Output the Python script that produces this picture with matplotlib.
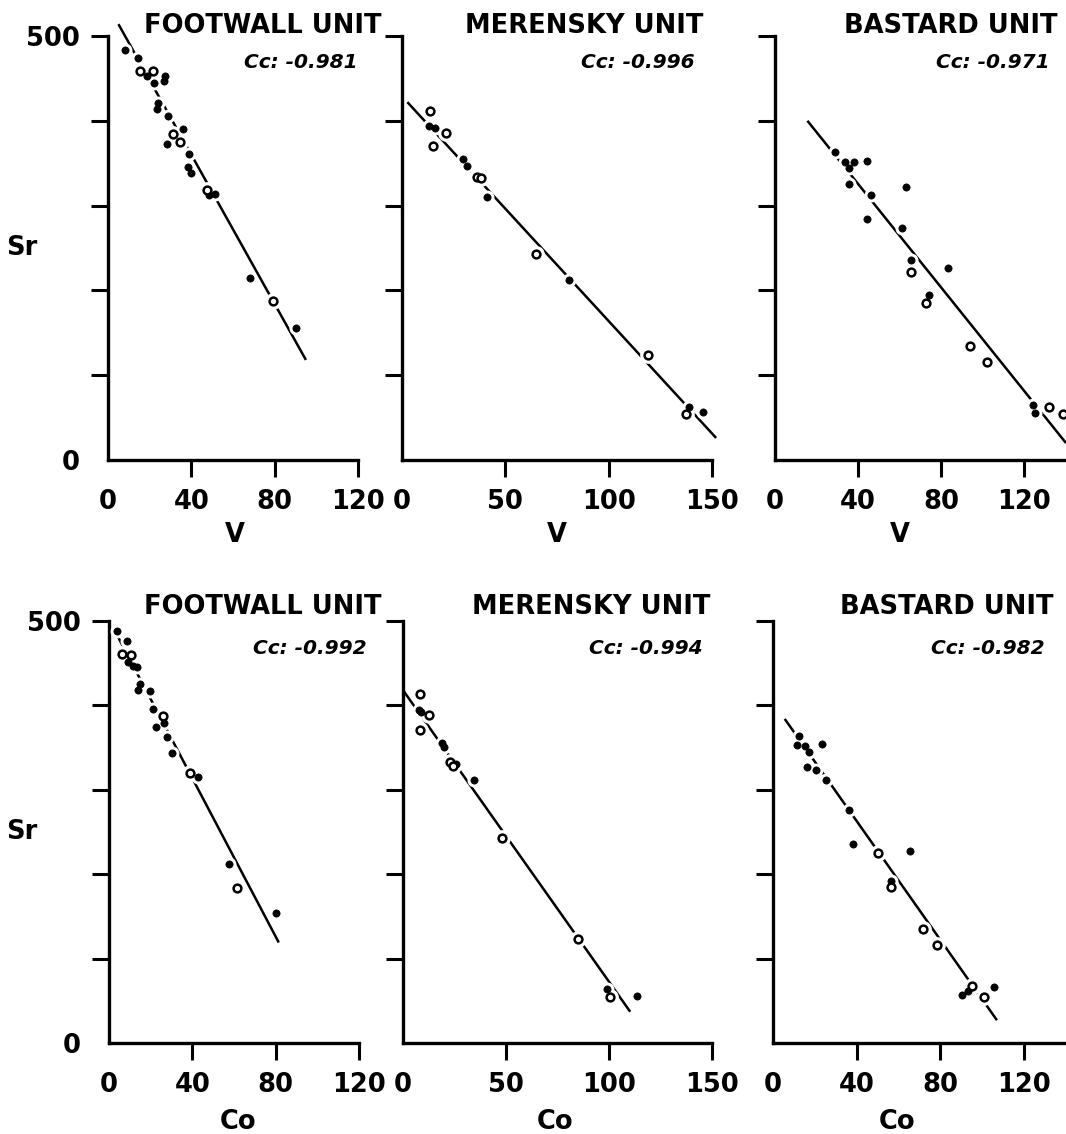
import matplotlib
matplotlib.use("Agg")
import matplotlib.pyplot as plt

W, H = 1066, 1134

# ---- data (Sr vs V, Sr vs Co) ----
fw_v_filled_x = [8.2, 14.4, 18.6, 22, 27.4, 27, 24, 23.5, 28.8, 36, 28.2, 39, 38.5, 40, 48.6, 51.4, 68, 90]
fw_v_filled_y = [483, 474, 453, 445, 453, 447, 421, 414, 406, 390, 373, 361, 345, 339, 312, 314, 215, 156]
fw_v_open_x = [15.4, 21.8, 31.4, 34.6, 47.4, 79]
fw_v_open_y = [459, 459, 385, 375, 318, 187]
fw_v_fit_x = [5, 95]
fw_v_fit_y = [514, 118]

me_v_filled_x = [13.2, 16, 29.4, 31.6, 41, 81, 139, 145.8]
me_v_filled_y = [394, 391, 355, 347, 310, 212, 63, 57]
me_v_open_x = [13.5, 21.3, 14.9, 36.4, 38, 65, 119, 137.5]
me_v_open_y = [411, 386, 370, 334, 332, 243, 124, 54]
me_v_fit_x = [2.6, 152]
me_v_fit_y = [422, 26]

ba_v_filled_x = [29, 33.5, 35.4, 37.8, 44.3, 35.4, 46.2, 44.3, 63, 61.2, 65.6, 83.4, 74, 124, 125]
ba_v_filled_y = [363, 351, 344, 352, 353, 325, 312, 284, 322, 273, 236, 227, 194, 64.5, 55]
ba_v_open_x = [65.2, 72.5, 93.9, 102, 132, 138.5]
ba_v_open_y = [222, 185, 135, 116, 63, 54]
ba_v_fit_x = [15.6, 140]
ba_v_fit_y = [400, 20]

fw_co_filled_x = [4, 8.5, 9.2, 11.6, 13.5, 14.8, 14, 19.6, 21.2, 26.3, 22.4, 27.6, 30, 42.7, 57.6, 80]
fw_co_filled_y = [488, 476, 452, 447, 445, 425, 418, 417, 396, 379, 375, 363, 344, 315, 212, 154]
fw_co_open_x = [6, 10.5, 25.7, 38.8, 61.4]
fw_co_open_y = [461, 460, 388, 320, 184]
fw_co_fit_x = [2, 81.5]
fw_co_fit_y = [492, 119]

me_co_filled_x = [7.6, 8.7, 18.9, 19.7, 25.7, 34.3, 99, 113.6]
me_co_filled_y = [395, 392, 356, 351, 331, 312, 64, 56]
me_co_open_x = [8.1, 12.4, 8.4, 22.6, 24.3, 48, 84.8, 100.3]
me_co_open_y = [413, 389, 371, 333, 328, 243, 123, 55]
me_co_fit_x = [0.3, 110.3]
me_co_fit_y = [417, 37]

ba_co_filled_x = [12.4, 11.4, 15.1, 17.1, 23.5, 16.2, 20.7, 25.1, 36.5, 38.1, 65.4, 56.4, 90.5, 93.3, 105.6]
ba_co_filled_y = [364, 353, 352, 345, 354, 327, 323, 312, 276, 236, 228, 192, 57, 62, 66]
ba_co_open_x = [50, 56.4, 71.8, 78.6, 95, 100.8]
ba_co_open_y = [225, 185, 135, 116, 68, 54]
ba_co_fit_x = [5.6, 107]
ba_co_fit_y = [384, 27]

titles = ["FOOTWALL UNIT", "MERENSKY UNIT", "BASTARD UNIT"]
cc_v = ["Cc: -0.981", "Cc: -0.996", "Cc: -0.971"]
cc_co = ["Cc: -0.992", "Cc: -0.994", "Cc: -0.982"]
x_ticks = [[0, 40, 80, 120], [0, 50, 100, 150], [0, 40, 80, 120]]
x_limits = [120, 150, 140]
y_ticks = [0, 100, 200, 300, 400, 500]

panels = [
    (fw_v_filled_x, fw_v_filled_y, fw_v_open_x, fw_v_open_y, fw_v_fit_x, fw_v_fit_y),
    (me_v_filled_x, me_v_filled_y, me_v_open_x, me_v_open_y, me_v_fit_x, me_v_fit_y),
    (ba_v_filled_x, ba_v_filled_y, ba_v_open_x, ba_v_open_y, ba_v_fit_x, ba_v_fit_y),
    (fw_co_filled_x, fw_co_filled_y, fw_co_open_x, fw_co_open_y, fw_co_fit_x, fw_co_fit_y),
    (me_co_filled_x, me_co_filled_y, me_co_open_x, me_co_open_y, me_co_fit_x, me_co_fit_y),
    (ba_co_filled_x, ba_co_filled_y, ba_co_open_x, ba_co_open_y, ba_co_fit_x, ba_co_fit_y),
]

# ---- layout, in pixels of the reference ----
col_x = [[(108, 358), (402, 712), (775, 1066)],
         [(109, 359), (403, 712), (773, 1066)]]
row_y = [(36, 460), (621, 1043)]
title_y = [26, 607]
cc_y = [63, 649]
title_right = [[382, 703, 1057], [381, 710, 1053]]
cc_right = [[358, 695, 1050], [367, 703, 1045]]
xlabel_x = [[235, 557, 900], [238, 555, 897]]
xlabel_y = [535, 1122]
ylabel_pos = [(22, 248), (22, 832)]
xlabels = ["V", "Co"]

plt.rcParams["font.family"] = "DejaVu Sans"
plt.rcParams["font.weight"] = "bold"

fig = plt.figure(figsize=(W / 100, H / 100), dpi=100)


def fx(px):
    return px / W


def fy(py):
    return 1 - py / H


for row in range(2):
    for col in range(3):
        fxv, fyv, oxv, oyv, lx, ly = panels[row * 3 + col]
        x0, x1 = col_x[row][col]
        yt, yb = row_y[row]
        ax = fig.add_axes([fx(x0), fy(yb), (x1 - x0) / W, (yb - yt) / H])

        ax.plot(lx, ly, color="black", lw=1.8, zorder=2, clip_on=False,
                solid_capstyle="butt")
        # white halos break the fit line around each symbol
        ax.plot(fxv, fyv, "o", ms=9, color="white", mec="white", zorder=3, clip_on=False)
        ax.plot(oxv, oyv, "o", ms=11, color="white", mec="white", zorder=3, clip_on=False)
        ax.plot(fxv, fyv, "o", ms=5.2, color="black", mec="black", mew=0.5,
                zorder=4, clip_on=False)
        ax.plot(oxv, oyv, "o", ms=5.6, mfc="white", mec="black", mew=1.8,
                zorder=4, clip_on=False)

        ax.set_xlim(0, x_limits[col])
        ax.set_ylim(0, 500)
        ax.spines["top"].set_visible(False)
        ax.spines["right"].set_visible(False)
        for s in ("left", "bottom"):
            ax.spines[s].set_linewidth(2.4)
            ax.spines[s].set_capstyle("projecting")

        ax.set_xticks(x_ticks[col])
        ax.set_xticklabels([str(t) for t in x_ticks[col]])
        ax.set_yticks(y_ticks)
        if col == 0:
            ax.set_yticklabels(["0", "", "", "", "", "500"])
        else:
            ax.set_yticklabels([""] * len(y_ticks))
        ax.tick_params(axis="both", direction="out", length=12, width=2.2,
                       labelsize=18.5, pad=8)
        ax.tick_params(axis="x", pad=9)
        ax.xaxis.get_major_ticks()[0].tick1line.set_visible(False)
        ax.yaxis.get_major_ticks()[0].tick1line.set_visible(False)
        for lab in ax.get_xticklabels() + ax.get_yticklabels():
            lab.set_fontweight("bold")

        ax.set_xlabel(xlabels[row], fontsize=18.5, fontweight="bold", va="center")
        ax.xaxis.set_label_coords(fx(xlabel_x[row][col]), fy(xlabel_y[row]),
                                  transform=fig.transFigure)
        if col == 0:
            ax.set_ylabel("Sr", fontsize=18.5, fontweight="bold", rotation=0,
                          ha="center", va="center")
            ax.yaxis.set_label_coords(fx(ylabel_pos[row][0]), fy(ylabel_pos[row][1]),
                                      transform=fig.transFigure)

        fig.text(fx(title_right[row][col]), fy(title_y[row]), titles[col],
                 ha="right", va="center", fontsize=18.5, fontweight="bold")
        cc = cc_v[col] if row == 0 else cc_co[col]
        fig.text(fx(cc_right[row][col]), fy(cc_y[row]), cc,
                 ha="right", va="center", fontsize=14.5, fontweight="bold",
                 style="italic")

fig.savefig("out.png", dpi=100, facecolor="white")
